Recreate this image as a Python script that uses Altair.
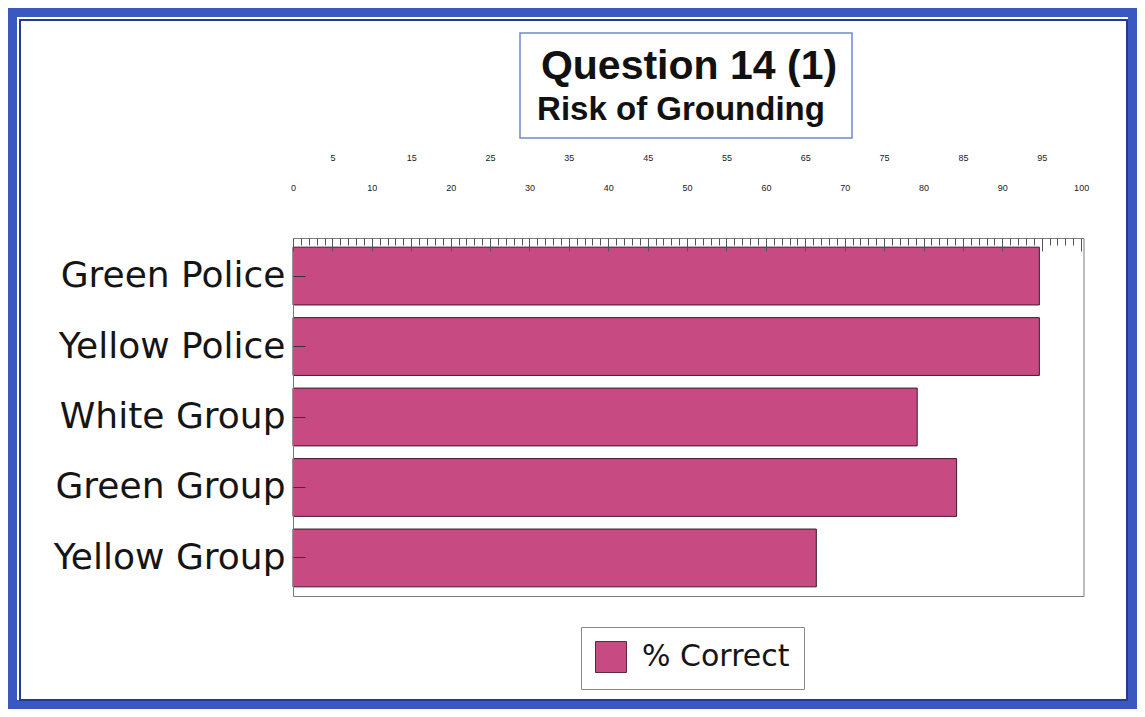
import altair as alt
import pandas as pd

# ---- data ----
categories = ["Green Police", "Yellow Police", "White Group", "Green Group", "Yellow Group"]
pct_correct = [94.7, 94.7, 79.2, 84.2, 66.4]
series_name = "% Correct"
title_text = "Question 14 (1)"
subtitle_text = "Risk of Grounding"
label_ticks = list(range(0, 101, 5))
ruler_ticks = list(range(0, 101, 1))

# ---- layout (pixels, chart coordinates) ----
W, H = 1129, 701
PX0, PX1 = 285, 1075.5
PY0, PY1 = 230, 588

BAR = "#c74a82"
BLUE = "#3a58c0"
FRAME = "#7a7a7a"

df = pd.DataFrame({
    "group": categories,
    "pct": pct_correct,
    "series": [series_name] * len(categories),
})
one = pd.DataFrame({"title": [title_text], "subtitle": [subtitle_text]})

x_scale = alt.Scale(domain=[0, 100.3], range=[PX0, PX1], nice=False, zero=True)
y_scale = alt.Scale(domain=categories, range=[PY0, PY1], paddingInner=0.18, paddingOuter=0.13)

outer_band = alt.Chart(one).mark_rect(fillOpacity=0, stroke=BLUE, strokeWidth=9).encode(
    x=alt.value(4.5), x2=alt.value(W - 4.5), y=alt.value(4.5), y2=alt.value(H - 4.5)
)
inner_frame = alt.Chart(one).mark_rect(fillOpacity=0, stroke="#233a96", strokeWidth=2).encode(
    x=alt.value(12), x2=alt.value(W - 10), y=alt.value(12), y2=alt.value(H - 9)
)
title_box = alt.Chart(one).mark_rect(fillOpacity=0, stroke="#7088d0", strokeWidth=1.5).encode(
    x=alt.value(512), x2=alt.value(844), y=alt.value(25), y2=alt.value(130)
)
title_mark = alt.Chart(one).mark_text(
    font="Liberation Sans", fontWeight="bold", fontSize=41, align="center",
    baseline="alphabetic", color="#111111"
).encode(x=alt.value(681), y=alt.value(71), text="title:N")
subtitle_mark = alt.Chart(one).mark_text(
    font="Liberation Sans", fontWeight="bold", fontSize=33, align="center",
    baseline="alphabetic", color="#111111"
).encode(x=alt.value(673), y=alt.value(112), text="subtitle:N")

bars = alt.Chart(df).mark_bar(stroke="#3b1a2a", strokeWidth=1).encode(
    x=alt.X(
        "pct:Q", scale=x_scale,
        axis=alt.Axis(
            orient="top", offset=-PY0, values=label_ticks, ticks=False,
            domain=True, domainColor=FRAME, domainWidth=1, grid=False, title=None,
            labelFont="Liberation Sans", labelFontSize=9, labelColor="#222222",
            labelPadding={"condition": {"test": "datum.value % 10 != 0", "value": 76}, "value": 46},
            labelOverlap=False, labelFlush=False, zindex=1,
        ),
    ),
    y=alt.Y(
        "group:N", scale=y_scale,
        axis=alt.Axis(
            orient="left", offset=-PX0, ticks=False, domain=True, domainColor=FRAME,
            grid=False, title=None, labelFont="DejaVu Sans", labelFontSize=36,
            labelColor="#151515", labelPadding=8, labelLimit=400, zindex=1,
        ),
    ),
    color=alt.Color(
        "series:N",
        scale=alt.Scale(domain=[series_name], range=[BAR]),
        legend=alt.Legend(
            title=None, orient="none", legendX=573, legendY=619, direction="vertical",
            symbolType="square", symbolSize=961, symbolStrokeColor="#5a2a40",
            symbolStrokeWidth=1, symbolOpacity=1, labelFont="DejaVu Sans",
            labelFontSize=30, labelColor="#151515", labelOffset=15, padding=14,
            strokeColor="#8a8a8a", fillColor="white", cornerRadius=0,
        ),
    ),
)

ruler = alt.Chart(df).mark_bar(opacity=0).encode(
    x=alt.X(
        "pct:Q",
        axis=alt.Axis(
            orient="bottom", offset=-(H - PY0), values=ruler_ticks, labels=False,
            domain=False, grid=False, title=None, tickColor="#555555", tickWidth=1,
            tickSize={"condition": {"test": "datum.value % 5 == 0", "value": 13}, "value": 7},
            zindex=2,
        ),
    ),
    y=alt.Y(
        "group:N",
        axis=alt.Axis(
            orient="right", offset=-(W - PX0), labels=False, domain=False, grid=False,
            title=None, tickSize=12, tickColor="#333333", zindex=2,
        ),
    ),
)

frame = alt.Chart(df).mark_bar(opacity=0).encode(
    x=alt.X(
        "pct:Q",
        axis=alt.Axis(
            orient="bottom", offset=-(H - PY1), labels=False, ticks=False, domain=True,
            domainColor=FRAME, grid=False, title=None, zindex=2,
        ),
    ),
    y=alt.Y(
        "group:N",
        axis=alt.Axis(
            orient="right", offset=-(W - PX1), labels=False, ticks=False, domain=True,
            domainColor=FRAME, grid=False, title=None, zindex=2,
        ),
    ),
)

chart = alt.layer(
    outer_band, inner_frame, title_box, title_mark, subtitle_mark, bars, ruler, frame
).resolve_axis(
    x="independent", y="independent"
).properties(
    width=W, height=H, autosize=alt.AutoSizeParams(type="none"), padding=0
).configure_view(
    strokeWidth=0, fill="white"
).configure(background="white")

chart.save("out.html", embed_options={"renderer": "svg", "actions": False})
